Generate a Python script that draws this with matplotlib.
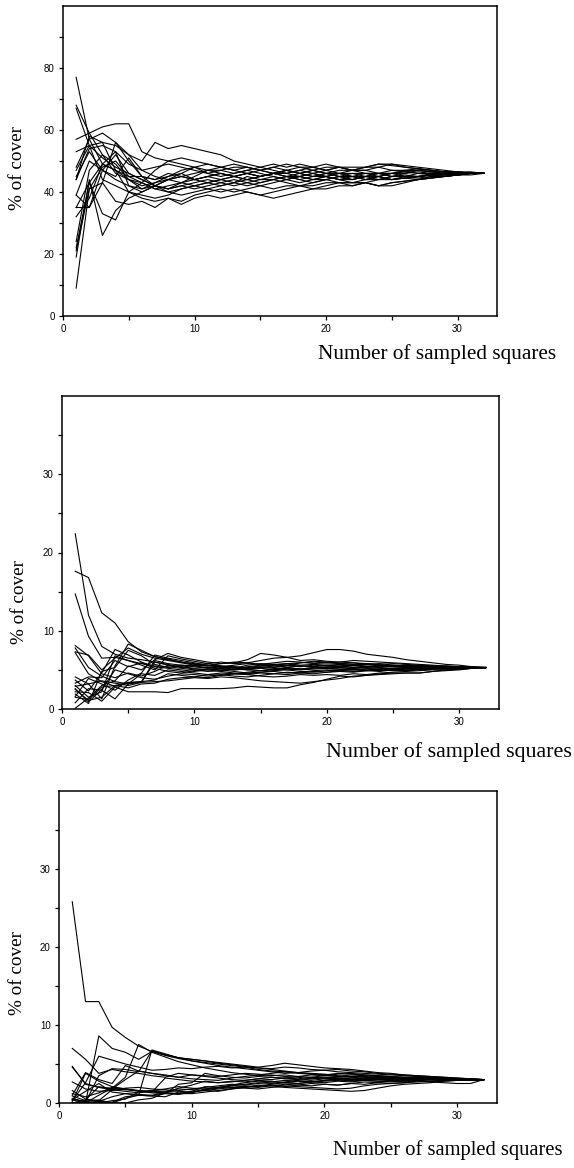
"""
Running estimate of % cover against the number of sampled squares,
one line per random sampling order, for three species.
"""

import matplotlib
matplotlib.use("Agg")
import matplotlib.pyplot as plt

N_SQUARES = list(range(1, 33))

# --- Species 1 (mean cover ~46 %) ---------------------------------------
SP1 = [
    [77, 57, 49, 47, 44, 42, 43, 44, 45, 44, 45, 46, 45, 46, 45, 46, 47, 46, 45, 46, 45, 44, 45, 44, 45, 45.5, 45, 45.5, 46, 45.5, 46, 46],
    [68, 59, 52, 46, 44, 43, 41, 42, 43, 44, 43, 44, 45, 44, 45, 46, 45, 44, 45, 45, 46, 45, 44, 45, 44, 44.5, 45, 45.5, 45, 45.5, 46, 46],
    [67, 55, 51, 48, 46, 44, 42, 41, 42, 43, 44, 43, 42, 43, 44, 44, 45, 45, 46, 45, 44, 43, 43, 42, 43, 43.5, 44, 44.5, 45, 45.5, 46, 46],
    [57, 59, 61, 62, 62, 53, 51, 50, 49, 48, 49, 48, 47, 48, 47, 48, 47, 46, 47, 46, 47, 47, 48, 49, 48.5, 48, 47.5, 47, 46.5, 46.5, 46, 46],
    [53, 55, 56, 55, 52, 50, 56, 54, 55, 54, 53, 52, 50, 49, 48, 49, 48, 49, 48, 47, 48, 47, 48, 48, 49, 48.5, 48, 47.5, 47, 46.5, 46.5, 46],
    [48, 57, 59, 56, 52, 47, 45, 44, 43, 42, 43, 44, 45, 46, 45, 46, 46, 45, 44, 45, 44, 45, 46, 45, 46, 46.5, 46, 45.5, 46, 46, 46, 46],
    [45, 53, 47, 44, 42, 40, 42, 44, 45, 46, 47, 47, 46, 47, 48, 47, 46, 47, 48, 47, 48, 47, 47, 46, 46, 47, 47.5, 47, 46.5, 46.5, 46, 46],
    [44, 54, 55, 53, 49, 47, 48, 49, 48, 47, 46, 47, 48, 48, 47, 46, 47, 48, 48, 49, 48, 48, 48, 49, 49, 48, 47.5, 47, 46.5, 46.5, 46, 46],
    [44, 58, 56, 47, 40, 39, 38, 39, 41, 42, 43, 42, 43, 44, 43, 44, 45, 44, 43, 44, 45, 44, 45, 45, 44, 44.5, 45, 45.5, 45.5, 46, 46, 46],
    [39, 35, 43, 56, 50, 45, 44, 45, 47, 48, 47, 46, 45, 44, 45, 46, 46, 47, 46, 45, 46, 46, 45, 46, 45, 46, 46.5, 46, 46, 46, 46, 46],
    [35, 35, 47, 45, 51, 45, 42, 40, 41, 42, 41, 42, 43, 42, 43, 44, 43, 42, 43, 44, 43, 43, 44, 44, 45, 45, 44.5, 45, 45.5, 45.5, 46, 46],
    [35, 43, 33, 31, 40, 38, 37, 38, 37, 39, 40, 41, 40, 41, 42, 41, 42, 42, 41, 42, 43, 43, 43, 42, 42, 43, 44, 44.5, 45, 45.5, 46, 46],
    [32, 38, 49, 53, 42, 41, 43, 45, 46, 44, 45, 44, 43, 45, 44, 45, 44, 45, 44, 44, 45, 45, 44, 45, 46, 45, 45, 45.5, 46, 46, 46, 46],
    [24, 47, 52, 49, 44, 41, 42, 41, 43, 45, 47, 48, 47, 46, 45, 46, 47, 46, 47, 46, 45, 46, 46, 46, 47, 46.5, 47, 46.5, 46, 46, 46, 46],
    [22, 43, 49, 47, 45, 43, 41, 40, 39, 40, 41, 40, 41, 40, 39, 40, 41, 42, 42, 43, 43, 42, 43, 44, 44, 44.5, 44, 45, 45, 45.5, 46, 46],
    [21, 41, 43, 37, 36, 37, 35, 38, 36, 38, 39, 38, 39, 40, 39, 38, 39, 40, 41, 41, 42, 42, 43, 42, 43, 43.5, 44, 44.5, 45, 45.5, 45.5, 46],
    [19, 44, 26, 34, 38, 40, 42, 41, 42, 41, 42, 43, 44, 43, 42, 43, 44, 43, 44, 45, 44, 44, 45, 45, 44, 45, 45, 45.5, 46, 46, 46, 46],
    [9, 41, 48, 50, 45, 45, 44, 46, 45, 44, 45, 46, 45, 46, 47, 46, 45, 46, 45, 46, 46, 47, 46, 46, 46, 46, 47, 46.5, 46, 46, 46, 46],
    [47, 55, 44, 42, 40, 43, 47, 50, 51, 50, 49, 48, 49, 48, 47, 48, 49, 48, 47, 48, 48, 47, 47, 48, 47, 47, 47, 46.5, 46.5, 46, 46, 46],
    [39, 50, 47, 52, 46, 44, 42, 44, 46, 48, 46, 45, 46, 47, 46, 45, 44, 45, 46, 47, 46, 45, 45, 46, 45, 45, 46, 46, 45.5, 46, 46, 46],
]

# --- Species 2 (mean cover ~5.3 %) --------------------------------------
SP2 = [
    [22.4, 12.0, 8.0, 7.0, 6.5, 6.3, 6.0, 5.6, 5.4, 5.2, 5.3, 5.1, 5.0, 5.2, 5.4, 5.3, 5.5, 5.4, 5.6, 5.5, 5.4, 5.5, 5.4, 5.3, 5.4, 5.3, 5.4, 5.3, 5.3, 5.3, 5.3, 5.3],
    [17.6, 16.8, 12.3, 11.0, 8.6, 7.3, 6.7, 6.4, 6.0, 5.8, 5.6, 5.5, 5.4, 5.2, 5.3, 5.5, 5.6, 5.5, 5.4, 5.6, 5.7, 5.6, 5.5, 5.4, 5.5, 5.4, 5.4, 5.3, 5.3, 5.3, 5.3, 5.3],
    [14.7, 9.3, 6.5, 6.6, 6.2, 5.8, 5.5, 5.4, 5.2, 5.0, 4.8, 4.9, 5.1, 5.0, 4.9, 5.1, 5.2, 5.0, 5.1, 5.2, 5.1, 5.2, 5.3, 5.2, 5.1, 5.2, 5.2, 5.3, 5.3, 5.3, 5.3, 5.3],
    [8.1, 6.8, 4.5, 4.0, 4.6, 4.2, 4.8, 5.6, 5.4, 5.1, 5.0, 4.8, 4.6, 4.5, 4.7, 4.8, 4.6, 4.7, 4.9, 5.0, 4.9, 5.0, 5.1, 5.0, 5.1, 5.2, 5.2, 5.2, 5.3, 5.2, 5.3, 5.3],
    [7.3, 6.9, 5.0, 6.5, 7.8, 7.0, 6.5, 6.2, 5.9, 5.6, 5.5, 5.4, 5.2, 5.6, 5.8, 5.7, 5.6, 5.9, 6.0, 5.9, 5.8, 5.7, 5.8, 5.6, 5.5, 5.6, 5.5, 5.4, 5.4, 5.3, 5.3, 5.3],
    [7.2, 4.5, 3.5, 2.9, 3.3, 3.5, 6.2, 5.8, 5.6, 5.5, 5.3, 5.2, 5.0, 5.1, 5.3, 5.2, 5.0, 5.1, 5.3, 5.2, 5.4, 5.3, 5.2, 5.1, 5.2, 5.3, 5.2, 5.2, 5.3, 5.3, 5.3, 5.3],
    [4.1, 3.2, 1.3, 5.5, 8.3, 7.5, 6.7, 6.3, 6.0, 5.7, 5.5, 5.8, 6.0, 5.9, 6.2, 6.5, 6.6, 6.2, 6.3, 6.1, 6.0, 5.9, 5.8, 5.7, 5.8, 5.7, 5.6, 5.5, 5.4, 5.4, 5.3, 5.3],
    [3.3, 4.1, 4.0, 6.2, 5.4, 5.9, 5.2, 4.8, 4.6, 4.9, 5.1, 5.0, 4.8, 4.6, 4.7, 4.9, 5.0, 4.8, 4.7, 4.9, 5.0, 5.1, 5.0, 4.9, 5.0, 5.1, 5.1, 5.2, 5.2, 5.3, 5.3, 5.3],
    [3.0, 1.5, 2.2, 6.8, 6.2, 5.6, 5.0, 6.8, 6.4, 6.1, 5.8, 5.5, 5.3, 5.0, 5.2, 5.0, 5.3, 5.5, 5.4, 5.3, 5.5, 5.6, 5.7, 5.5, 5.6, 5.5, 5.4, 5.4, 5.3, 5.3, 5.3, 5.3],
    [2.6, 0.9, 2.5, 5.0, 4.5, 4.0, 3.8, 4.2, 4.5, 4.4, 4.2, 4.4, 4.2, 4.1, 4.3, 4.5, 4.4, 4.6, 4.8, 4.7, 4.9, 4.8, 4.9, 5.0, 5.1, 5.0, 5.1, 5.2, 5.2, 5.2, 5.3, 5.3],
    [2.5, 1.1, 1.5, 3.0, 2.7, 3.2, 3.3, 3.8, 4.0, 4.1, 4.0, 4.3, 4.5, 4.4, 4.6, 4.5, 4.7, 4.6, 4.5, 4.7, 4.8, 4.7, 4.9, 4.8, 5.0, 4.9, 5.1, 5.1, 5.2, 5.2, 5.3, 5.3],
    [2.2, 2.1, 1.0, 2.8, 2.2, 2.2, 2.2, 2.1, 2.6, 2.6, 2.6, 2.6, 2.7, 2.9, 2.8, 2.7, 2.7, 3.1, 3.4, 3.8, 4.2, 4.1, 4.3, 4.5, 4.6, 4.6, 4.6, 4.8, 5.0, 5.1, 5.2, 5.3],
    [1.9, 0.7, 4.8, 5.3, 7.5, 6.8, 5.7, 5.3, 5.6, 5.4, 5.2, 5.4, 5.6, 5.8, 5.7, 5.9, 6.1, 6.0, 5.8, 5.9, 6.0, 6.2, 6.1, 6.0, 5.9, 5.8, 5.7, 5.6, 5.5, 5.4, 5.3, 5.3],
    [1.6, 3.9, 3.2, 2.4, 3.7, 4.6, 6.9, 6.5, 6.2, 5.9, 5.6, 5.3, 5.1, 5.4, 5.6, 5.5, 5.3, 5.1, 5.2, 5.4, 5.3, 5.2, 5.4, 5.5, 5.4, 5.4, 5.3, 5.4, 5.3, 5.3, 5.3, 5.3],
    [1.5, 1.2, 2.8, 3.0, 3.4, 3.5, 3.7, 4.5, 4.3, 4.1, 4.4, 4.6, 4.5, 4.7, 4.9, 5.0, 5.2, 5.1, 5.3, 5.2, 5.1, 5.0, 4.9, 5.0, 4.9, 4.9, 5.0, 5.1, 5.1, 5.2, 5.2, 5.3],
    [0.1, 1.4, 3.0, 3.6, 5.5, 5.0, 6.3, 7.1, 6.6, 6.3, 6.0, 5.8, 5.9, 6.3, 7.1, 6.9, 6.6, 6.8, 7.2, 7.6, 7.6, 7.4, 7.0, 6.8, 6.6, 6.3, 6.1, 5.9, 5.7, 5.6, 5.4, 5.3],
    [7.8, 5.3, 4.2, 3.5, 3.2, 4.5, 4.3, 5.0, 4.8, 4.6, 4.4, 4.3, 4.5, 4.4, 4.2, 4.1, 4.2, 4.4, 4.3, 4.4, 4.3, 4.5, 4.4, 4.6, 4.7, 4.8, 4.9, 5.0, 5.0, 5.1, 5.2, 5.3],
    [2.9, 3.2, 3.6, 3.3, 3.0, 3.4, 6.0, 5.7, 5.3, 5.6, 5.8, 6.0, 5.8, 5.9, 5.7, 5.6, 5.8, 5.9, 6.1, 6.0, 5.8, 5.9, 5.7, 5.8, 5.6, 5.5, 5.6, 5.5, 5.5, 5.4, 5.4, 5.3],
    [0.8, 2.6, 2.4, 1.3, 3.2, 3.4, 3.5, 3.6, 3.8, 4.0, 3.9, 4.1, 4.0, 3.8, 3.6, 3.5, 3.4, 3.3, 3.5, 3.7, 3.9, 4.2, 4.3, 4.4, 4.5, 4.6, 4.6, 4.8, 4.9, 5.0, 5.2, 5.3],
    [3.7, 2.3, 4.6, 7.6, 6.9, 6.0, 5.4, 5.2, 5.0, 4.8, 5.0, 5.2, 5.4, 5.3, 5.5, 5.7, 5.8, 5.6, 5.7, 5.6, 5.5, 5.6, 5.7, 5.6, 5.5, 5.6, 5.5, 5.4, 5.4, 5.3, 5.3, 5.3],
]

# --- Species 3 (mean cover ~3.0 %) --------------------------------------
SP3 = [
    [25.8, 13.0, 13.0, 9.7, 8.4, 7.3, 6.6, 6.2, 5.8, 5.6, 5.4, 5.2, 5.0, 4.8, 4.6, 4.8, 5.1, 4.9, 4.7, 4.5, 4.4, 4.3, 4.1, 3.9, 3.8, 3.6, 3.5, 3.4, 3.3, 3.2, 3.1, 3.0],
    [0.4, 0.0, 8.6, 7.0, 6.5, 5.6, 6.6, 6.1, 5.7, 5.4, 5.2, 5.0, 4.8, 4.6, 4.5, 4.3, 4.1, 3.9, 3.8, 3.7, 3.5, 3.4, 3.4, 3.3, 3.3, 3.2, 3.2, 3.1, 3.1, 3.0, 3.0, 3.0],
    [7.0, 5.6, 3.8, 4.3, 4.0, 3.8, 3.5, 3.3, 3.8, 3.6, 3.5, 3.4, 3.6, 3.8, 3.7, 3.5, 3.6, 3.4, 3.3, 3.5, 3.4, 3.3, 3.2, 3.4, 3.3, 3.2, 3.1, 3.1, 3.0, 3.0, 3.0, 3.0],
    [4.6, 2.5, 2.0, 1.7, 1.5, 1.3, 1.5, 1.4, 1.6, 1.8, 2.0, 2.2, 2.4, 2.3, 2.5, 2.7, 2.6, 2.8, 2.7, 2.9, 3.0, 2.9, 3.1, 3.0, 3.1, 3.0, 3.0, 3.1, 3.0, 3.0, 3.0, 3.0],
    [1.0, 3.9, 3.0, 2.5, 4.8, 4.1, 3.8, 3.5, 3.3, 3.6, 3.4, 3.2, 3.0, 2.9, 3.1, 3.3, 3.2, 3.4, 3.6, 3.5, 3.7, 3.8, 3.6, 3.5, 3.4, 3.3, 3.3, 3.2, 3.2, 3.1, 3.1, 3.0],
    [0.3, 2.6, 6.0, 5.5, 5.0, 4.6, 4.2, 4.3, 4.5, 4.4, 4.6, 4.7, 4.5, 4.6, 4.3, 4.1, 4.0, 3.8, 3.7, 3.6, 3.4, 3.6, 3.5, 3.4, 3.3, 3.2, 3.3, 3.2, 3.1, 3.1, 3.0, 3.0],
    [2.7, 1.8, 1.5, 1.6, 1.8, 1.6, 1.4, 3.2, 3.0, 2.8, 2.7, 2.6, 2.8, 2.7, 2.9, 2.8, 2.6, 2.5, 2.7, 2.8, 2.9, 3.0, 2.9, 2.8, 2.9, 3.0, 3.1, 3.0, 3.0, 3.0, 3.0, 3.0],
    [0.0, 0.0, 1.0, 1.9, 3.3, 7.5, 6.5, 5.9, 5.3, 4.9, 4.5, 4.2, 3.9, 3.7, 3.5, 3.6, 3.4, 3.3, 3.1, 3.2, 3.3, 3.4, 3.3, 3.2, 3.1, 3.2, 3.1, 3.1, 3.0, 3.0, 3.0, 3.0],
    [0.5, 0.2, 0.4, 0.0, 0.6, 1.0, 6.8, 6.3, 5.8, 5.6, 5.4, 5.1, 4.9, 4.7, 4.5, 4.4, 4.6, 4.5, 4.3, 4.2, 4.0, 3.9, 3.8, 3.7, 3.6, 3.5, 3.4, 3.3, 3.2, 3.1, 3.1, 3.0],
    [1.2, 0.8, 1.3, 2.0, 1.8, 1.5, 1.6, 1.8, 2.1, 1.9, 1.8, 2.0, 2.2, 2.1, 2.0, 2.2, 2.4, 2.3, 2.5, 2.4, 2.3, 2.5, 2.7, 2.6, 2.8, 2.7, 2.9, 2.8, 2.9, 3.0, 2.9, 3.0],
    [0.0, 0.0, 0.2, 0.1, 0.8, 1.0, 0.9, 0.8, 1.4, 1.3, 1.8, 2.0, 1.9, 2.2, 2.1, 2.3, 2.2, 2.1, 2.0, 1.9, 1.8, 1.9, 2.2, 2.4, 2.5, 2.6, 2.7, 2.8, 2.8, 2.9, 2.9, 3.0],
    [0.4, 1.5, 2.5, 1.4, 1.2, 1.0, 0.9, 1.2, 2.4, 2.6, 3.8, 3.5, 3.3, 3.2, 3.4, 3.3, 3.1, 3.0, 2.9, 3.1, 3.0, 2.8, 2.9, 3.0, 2.9, 2.9, 3.0, 3.0, 3.0, 2.9, 3.0, 3.0],
    [0.2, 3.8, 2.8, 2.1, 1.8, 1.5, 1.3, 1.2, 1.1, 1.4, 1.7, 1.9, 2.2, 2.4, 2.6, 2.5, 2.7, 2.9, 3.1, 3.3, 3.2, 3.1, 3.0, 3.2, 3.1, 3.0, 3.0, 3.1, 3.1, 3.0, 3.0, 3.0],
    [1.6, 0.5, 0.3, 1.7, 1.9, 2.0, 1.8, 1.7, 1.5, 1.4, 1.6, 1.5, 1.8, 2.0, 2.3, 2.2, 2.0, 1.9, 1.8, 1.7, 1.6, 1.5, 1.6, 1.9, 2.2, 2.4, 2.5, 2.6, 2.8, 2.9, 2.9, 3.0],
    [0.0, 0.4, 2.1, 1.8, 3.0, 4.1, 3.8, 3.6, 3.3, 3.1, 3.0, 2.9, 3.2, 3.4, 3.6, 3.8, 4.0, 3.9, 4.1, 4.2, 4.3, 4.1, 4.0, 3.8, 3.7, 3.6, 3.5, 3.4, 3.3, 3.2, 3.1, 3.0],
    [0.9, 0.3, 0.2, 0.8, 1.2, 1.1, 1.0, 1.3, 1.2, 1.5, 2.1, 2.0, 2.3, 2.6, 2.8, 2.7, 2.9, 2.8, 2.7, 2.6, 2.8, 2.7, 2.9, 2.8, 2.7, 2.8, 2.9, 2.8, 2.9, 2.9, 3.0, 3.0],
    [4.7, 2.4, 2.0, 1.9, 1.7, 1.6, 1.4, 1.3, 1.2, 1.2, 1.4, 1.6, 1.8, 2.0, 2.2, 2.4, 2.6, 2.5, 2.7, 2.9, 3.1, 3.0, 2.9, 3.1, 3.0, 2.9, 3.0, 3.1, 3.0, 3.0, 3.0, 3.0],
    [0.0, 0.0, 0.0, 0.3, 0.5, 1.4, 1.6, 1.5, 1.8, 1.7, 1.6, 1.8, 2.0, 1.9, 1.8, 2.0, 2.1, 2.3, 2.2, 2.4, 2.3, 2.5, 2.4, 2.6, 2.5, 2.6, 2.8, 2.7, 2.6, 2.5, 2.5, 3.0],
    [0.0, 0.0, 0.0, 0.0, 0.0, 0.4, 0.6, 1.3, 1.9, 2.3, 2.8, 2.6, 2.7, 2.9, 3.1, 3.0, 3.2, 3.1, 3.3, 3.2, 3.1, 3.2, 3.1, 3.2, 3.1, 3.1, 3.1, 3.1, 3.0, 3.0, 3.0, 3.0],
    [0.6, 0.1, 3.5, 4.4, 4.3, 4.0, 6.7, 6.2, 5.8, 5.4, 5.1, 4.8, 4.6, 4.4, 4.2, 4.0, 3.8, 3.9, 3.7, 3.6, 3.8, 3.7, 3.6, 3.5, 3.4, 3.3, 3.3, 3.2, 3.1, 3.1, 3.0, 3.0],
]

W, H = 574, 1168

# (left, bottom, width, height) in pixels, bottom-origin
PANELS = [
    dict(data=SP1, box=(63, 852, 434, 310), ymax=100, major=[0, 20, 40, 60, 80],
         minor=[10, 30, 50, 70, 90], ylab=(17, 168), xlab=(318, 359), xfs=15.3),
    dict(data=SP2, box=(62, 459, 437, 313), ymax=40, major=[0, 10, 20, 30],
         minor=[5, 15, 25, 35], ylab=(20, 602), xlab=(326, 757), xfs=15.8),
    dict(data=SP3, box=(59, 65, 438, 312), ymax=40, major=[0, 10, 20, 30],
         minor=[5, 15, 25, 35], ylab=(17, 973), xlab=(333, 1155), xfs=14.8),
]

fig = plt.figure(figsize=(W / 100, H / 100), dpi=100)
fig.patch.set_facecolor("white")

for p in PANELS:
    l, b, w, h = p["box"]
    ax = fig.add_axes([l / W, b / H, w / W, h / H])
    for series in p["data"]:
        ax.plot(N_SQUARES, series, color="black", linewidth=0.8)
    ax.set_xlim(0, 33)
    ax.set_ylim(0, p["ymax"])
    ax.set_xticks([0, 10, 20, 30])
    ax.set_xticks([5, 15, 25], minor=True)
    ax.set_yticks(p["major"])
    ax.set_yticks(p["minor"], minor=True)
    for sp in ax.spines.values():
        sp.set_linewidth(1.1)
    ax.tick_params(which="both", direction="out", length=3, width=0.9,
                   top=False, right=False, labelsize=7, pad=3)
    for lab in ax.get_xticklabels() + ax.get_yticklabels():
        lab.set_fontfamily("Liberation Sans")

    yx, yy = p["ylab"]
    fig.text(yx / W, 1 - yy / H, "% of cover", rotation=90, ha="center",
             va="center", family="Liberation Serif", fontsize=13.8)
    xx, xy = p["xlab"]
    fig.text(xx / W, 1 - xy / H, "Number of sampled squares", ha="left",
             va="baseline", family="Liberation Serif", fontsize=p["xfs"])

fig.savefig("out.png", dpi=100, facecolor="white")
